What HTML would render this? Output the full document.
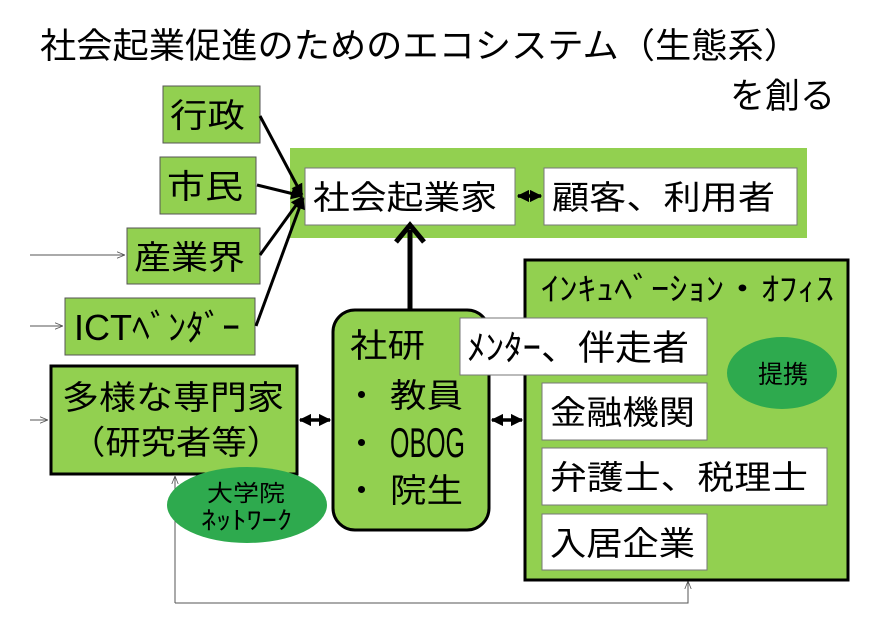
<!DOCTYPE html>
<html><head><meta charset="utf-8"><style>
body{margin:0;background:#fff}
svg{display:block}
text{font-family:"Liberation Sans","Noto Sans CJK JP",sans-serif;fill:#000}
</style></head><body>
<svg width="880" height="622" viewBox="0 0 880 622" xmlns="http://www.w3.org/2000/svg">
<defs>
<marker id="ah" viewBox="0 0 10 10" refX="9" refY="5" markerWidth="4" markerHeight="4" orient="auto-start-reverse"><path d="M0,0L10,5L0,10z" fill="#000"/></marker>
<marker id="dh" viewBox="0 0 10 10" refX="9" refY="5" markerWidth="3.5" markerHeight="3.5" orient="auto-start-reverse"><path d="M0,0L10,5L0,10z" fill="#000"/></marker>
<marker id="th" viewBox="0 0 10 10" refX="10" refY="5" markerWidth="8" markerHeight="8" orient="auto"><path d="M0,1L10,5L0,9" fill="none" stroke="#555" stroke-width="1"/></marker>
</defs>
<text x="40" y="58" font-size="35" textLength="760" lengthAdjust="spacingAndGlyphs">社会起業促進のためのエコシステム（生態系）</text>
<text x="730" y="108" font-size="35" textLength="105" lengthAdjust="spacingAndGlyphs">を創る</text>

<rect x="290" y="148" width="517" height="90" fill="#92d050"/>
<rect x="305" y="168" width="210" height="57" fill="#fff" stroke="#777"/>
<text x="313" y="209" font-size="33" textLength="184" lengthAdjust="spacingAndGlyphs">社会起業家</text>
<rect x="544" y="168" width="253" height="57" fill="#fff" stroke="#777"/>
<text x="552" y="209" font-size="33" textLength="223" lengthAdjust="spacingAndGlyphs">顧客、利用者</text>
<line x1="518" y1="196" x2="541" y2="196" stroke="#000" stroke-width="3.5" marker-start="url(#dh)" marker-end="url(#dh)"/>

<rect x="163" y="86" width="97" height="57" fill="#92d050" stroke="#555"/>
<text x="170" y="127" font-size="33" textLength="75" lengthAdjust="spacingAndGlyphs">行政</text>
<rect x="160" y="157" width="96" height="57" fill="#92d050" stroke="#555"/>
<text x="167" y="198" font-size="33" textLength="76" lengthAdjust="spacingAndGlyphs">市民</text>
<rect x="127" y="228" width="133" height="56" fill="#92d050" stroke="#555"/>
<text x="134" y="269" font-size="33" textLength="111" lengthAdjust="spacingAndGlyphs">産業界</text>
<rect x="65" y="298" width="190" height="57" fill="#92d050" stroke="#555"/>
<text x="74" y="340" font-size="36" textLength="166" lengthAdjust="spacingAndGlyphs">ICTﾍﾞﾝﾀﾞｰ</text>

<g stroke="#000" stroke-width="3" fill="none">
<line x1="260" y1="116" x2="302" y2="195" marker-end="url(#ah)"/>
<line x1="257" y1="185" x2="302" y2="196" marker-end="url(#ah)"/>
<line x1="260" y1="255" x2="302" y2="197" marker-end="url(#ah)"/>
<line x1="256" y1="326" x2="303" y2="198" marker-end="url(#ah)"/>
</g>
<g stroke="#555" stroke-width="1" fill="none">
<line x1="30" y1="255" x2="125" y2="255" marker-end="url(#th)"/>
<line x1="30" y1="326" x2="63" y2="326" marker-end="url(#th)"/>
<line x1="30" y1="420" x2="48" y2="420" marker-end="url(#th)"/>
<polyline points="175,603 688,603 688,582"/>
<line x1="175" y1="603" x2="175" y2="476" marker-end="url(#th)"/>
<line x1="688" y1="590" x2="688" y2="581" marker-end="url(#th)"/>
</g>

<rect x="51" y="366" width="246" height="108" fill="#92d050" stroke="#000" stroke-width="3"/>
<text x="62" y="409" font-size="33" textLength="222" lengthAdjust="spacingAndGlyphs">多様な専門家</text>
<text x="70" y="454" font-size="33" textLength="212" lengthAdjust="spacingAndGlyphs">（研究者等）</text>
<ellipse cx="247" cy="505" rx="80" ry="38" fill="#2eaa4e"/>
<text x="207" y="501" font-size="23" textLength="78" lengthAdjust="spacingAndGlyphs">大学院</text>
<text x="201" y="529" font-size="25" textLength="91" lengthAdjust="spacingAndGlyphs">ﾈｯﾄﾜｰｸ</text>

<line x1="410" y1="311" x2="410" y2="230" stroke="#000" stroke-width="5"/>
<path d="M396,242L410,225L424,242" fill="none" stroke="#000" stroke-width="5"/>

<rect x="333" y="310" width="156" height="220" rx="22" fill="#92d050" stroke="#000" stroke-width="3"/>
<text x="350" y="357" font-size="33" textLength="75" lengthAdjust="spacingAndGlyphs">社研</text>
<text x="345" y="407" font-size="33">・</text><text x="390" y="407" font-size="33" textLength="73" lengthAdjust="spacingAndGlyphs">教員</text>
<text x="345" y="455" font-size="33">・</text><text x="390" y="457" font-size="42" textLength="75" lengthAdjust="spacingAndGlyphs">OBOG</text>
<text x="345" y="502" font-size="33">・</text><text x="390" y="502" font-size="33" textLength="73" lengthAdjust="spacingAndGlyphs">院生</text>

<line x1="300" y1="420" x2="330" y2="420" stroke="#000" stroke-width="3.5" marker-start="url(#dh)" marker-end="url(#dh)"/>
<line x1="492" y1="420" x2="522" y2="420" stroke="#000" stroke-width="3.5" marker-start="url(#dh)" marker-end="url(#dh)"/>

<rect x="525" y="260" width="323" height="320" fill="#92d050" stroke="#000" stroke-width="3"/>
<text x="541" y="300" font-size="32" textLength="293" lengthAdjust="spacingAndGlyphs">ｲﾝｷｭﾍﾞｰｼｮﾝ・ｵﾌｨｽ</text>
<rect x="460" y="318" width="247" height="57" fill="#fff" stroke="#777"/>
<text x="467" y="360" font-size="35" textLength="222" lengthAdjust="spacingAndGlyphs">ﾒﾝﾀｰ、伴走者</text>
<ellipse cx="782" cy="373" rx="55" ry="36" fill="#2eaa4e"/>
<text x="758" y="383" font-size="25" textLength="50" lengthAdjust="spacingAndGlyphs">提携</text>
<rect x="542" y="383" width="165" height="57" fill="#fff" stroke="#777"/>
<text x="550" y="424" font-size="33" textLength="145" lengthAdjust="spacingAndGlyphs">金融機関</text>
<rect x="542" y="448" width="285" height="57" fill="#fff" stroke="#777"/>
<text x="550" y="489" font-size="33" textLength="258" lengthAdjust="spacingAndGlyphs">弁護士、税理士</text>
<rect x="542" y="514" width="165" height="56" fill="#fff" stroke="#777"/>
<text x="550" y="555" font-size="33" textLength="145" lengthAdjust="spacingAndGlyphs">入居企業</text>
</svg>
</body></html>
